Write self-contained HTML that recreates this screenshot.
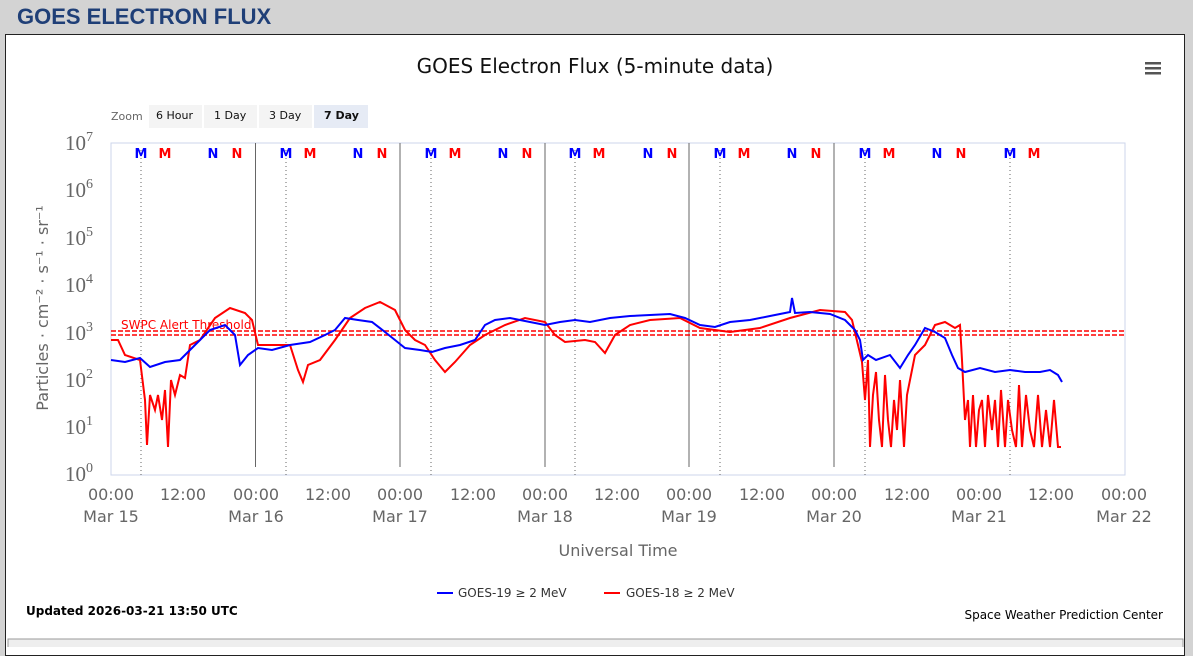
<!DOCTYPE html><html><head><style>
body{margin:0;width:1193px;height:647px;background:#d3d3d3;overflow:hidden;font-family:"Liberation Sans",sans-serif}
.h{position:absolute;left:17px;top:4px;font-size:22px;font-weight:bold;color:#1f3f77}
.box{position:absolute;left:5px;top:34px;width:1178px;height:620px;background:#fff;border:1px solid #222}
</style></head><body>
<div class="h">GOES ELECTRON FLUX</div>
<div class="box"></div>
<svg width="1193" height="647" style="position:absolute;left:0;top:0" font-family="DejaVu Sans, sans-serif">
<rect x="8" y="639" width="1175" height="10" fill="#eee" stroke="#999"/>
<text x="595" y="73" font-size="20" text-anchor="middle" fill="#111">GOES Electron Flux (5-minute data)</text>
<g fill="#555"><rect x="1145" y="62" width="16" height="2.5"/><rect x="1145" y="67" width="16" height="2.5"/><rect x="1145" y="72" width="16" height="2.5"/></g>
<text x="111" y="120" font-size="11" fill="#666">Zoom</text>
<rect x="149" y="105" width="53" height="23" fill="#f4f4f4"/><rect x="204" y="105" width="53" height="23" fill="#f4f4f4"/><rect x="259" y="105" width="53" height="23" fill="#f4f4f4"/><rect x="314" y="105" width="54" height="23" fill="#e6ebf5"/>
<g font-size="11" fill="#111"><text x="156" y="119">6 Hour</text><text x="214" y="119">1 Day</text><text x="269" y="119">3 Day</text><text x="324" y="119" font-weight="bold">7 Day</text></g>
<rect x="111" y="143" width="1014" height="332" fill="none" stroke="#ccd6eb"/>
<g stroke="#666"><line x1="255.5" y1="143" x2="255.5" y2="467"/><line x1="400" y1="143" x2="400" y2="467"/><line x1="545" y1="143" x2="545" y2="467"/><line x1="689" y1="143" x2="689" y2="467"/><line x1="834" y1="143" x2="834" y2="467"/></g>
<g stroke="#666" stroke-dasharray="1,3"><line x1="141" y1="150" x2="141" y2="475"/><line x1="286" y1="150" x2="286" y2="475"/><line x1="431" y1="150" x2="431" y2="475"/><line x1="575" y1="150" x2="575" y2="475"/><line x1="720" y1="150" x2="720" y2="475"/><line x1="865" y1="150" x2="865" y2="475"/><line x1="1010" y1="150" x2="1010" y2="475"/></g>
<g font-size="13" font-weight="bold" text-anchor="middle">
<g fill="#0000ff"><text x="141" y="158">M</text><text x="286" y="158">M</text><text x="431" y="158">M</text><text x="575" y="158">M</text><text x="720" y="158">M</text><text x="865" y="158">M</text><text x="1010" y="158">M</text>
<text x="213" y="158">N</text><text x="358" y="158">N</text><text x="503" y="158">N</text><text x="648" y="158">N</text><text x="792" y="158">N</text><text x="937" y="158">N</text></g>
<g fill="#ff0000"><text x="165" y="158">M</text><text x="310" y="158">M</text><text x="455" y="158">M</text><text x="599" y="158">M</text><text x="744" y="158">M</text><text x="889" y="158">M</text><text x="1034" y="158">M</text>
<text x="237" y="158">N</text><text x="382" y="158">N</text><text x="527" y="158">N</text><text x="672" y="158">N</text><text x="816" y="158">N</text><text x="961" y="158">N</text></g></g>
<g font-family="Liberation Serif, serif" fill="#666" font-size="21" text-anchor="end">
<text x="93" y="150">10<tspan font-size="14" dy="-9">7</tspan></text>
<text x="93" y="197">10<tspan font-size="14" dy="-9">6</tspan></text>
<text x="93" y="245">10<tspan font-size="14" dy="-9">5</tspan></text>
<text x="93" y="292">10<tspan font-size="14" dy="-9">4</tspan></text>
<text x="93" y="340">10<tspan font-size="14" dy="-9">3</tspan></text>
<text x="93" y="387">10<tspan font-size="14" dy="-9">2</tspan></text>
<text x="93" y="434">10<tspan font-size="14" dy="-9">1</tspan></text>
<text x="93" y="481">10<tspan font-size="14" dy="-9">0</tspan></text></g>
<text transform="translate(48,308) rotate(-90)" font-size="16" fill="#666" text-anchor="middle">Particles · cm⁻² · s⁻¹ · sr⁻¹</text>
<g font-size="16" fill="#666" text-anchor="middle">
<text x="111" y="500">00:00</text><text x="111" y="522">Mar 15</text><text x="183" y="500">12:00</text>
<text x="256" y="500">00:00</text><text x="256" y="522">Mar 16</text><text x="328" y="500">12:00</text>
<text x="400" y="500">00:00</text><text x="400" y="522">Mar 17</text><text x="473" y="500">12:00</text>
<text x="545" y="500">00:00</text><text x="545" y="522">Mar 18</text><text x="617" y="500">12:00</text>
<text x="689" y="500">00:00</text><text x="689" y="522">Mar 19</text><text x="762" y="500">12:00</text>
<text x="834" y="500">00:00</text><text x="834" y="522">Mar 20</text><text x="907" y="500">12:00</text>
<text x="979" y="500">00:00</text><text x="979" y="522">Mar 21</text><text x="1051" y="500">12:00</text>
<text x="1124" y="500">00:00</text><text x="1124" y="522">Mar 22</text>
<text x="618" y="556">Universal Time</text></g>
<g stroke="#ff0000" stroke-width="1.5" stroke-dasharray="5,2"><line x1="111" y1="331" x2="1125" y2="331"/><line x1="111" y1="335" x2="1125" y2="335"/></g>
<text x="121" y="329" font-size="12" fill="#ff0000">SWPC Alert Threshold</text>
<polyline fill="none" stroke="#ff0000" stroke-width="2" points="111,340 118,340 125,355 140,360 145,400 147,445 150,395 155,410 158,395 162,420 165,390 168,447 171,380 175,395 180,375 185,378 190,345 200,340 215,318 230,308 245,313 252,320 258,345 270,345 290,345 298,370 303,382 308,365 320,360 335,340 350,318 365,308 380,302 395,310 405,330 415,340 425,345 435,360 445,372 455,362 470,345 485,335 505,325 525,318 545,322 555,335 565,342 585,340 595,342 605,353 615,335 630,325 650,320 680,318 700,328 730,332 760,328 790,318 820,310 845,312 852,320 858,345 862,362 865,400 868,360 870,447 873,395 876,372 879,420 882,447 885,375 888,420 891,447 894,400 897,430 900,380 904,447 907,395 911,375 915,355 925,345 935,325 945,322 955,328 960,325 962,360 965,420 968,400 970,447 973,395 976,447 979,410 982,400 985,447 988,395 992,430 995,400 998,447 1001,390 1005,447 1008,400 1012,430 1016,447 1019,385 1022,447 1026,395 1030,430 1034,447 1038,395 1042,447 1046,410 1050,447 1054,400 1058,447 1061,447"/>
<polyline fill="none" stroke="#0000ff" stroke-width="2" points="111,360 125,362 140,358 150,367 165,362 180,360 195,345 210,330 225,325 235,335 240,365 248,355 258,348 272,350 290,345 310,342 325,335 335,330 345,318 358,320 372,322 385,332 395,340 405,348 420,350 432,352 445,348 460,345 475,340 485,325 495,320 510,318 530,322 545,325 560,322 575,320 590,322 610,318 630,316 650,315 670,314 685,318 700,325 715,327 730,322 750,320 770,316 790,312 792,298 795,313 810,312 830,314 845,320 855,330 860,340 863,360 868,355 876,360 890,355 900,368 908,355 915,345 925,328 935,332 945,338 952,355 958,368 965,372 980,368 995,372 1010,370 1025,372 1040,372 1050,370 1058,375 1062,382"/>
<g font-size="12" fill="#333"><line x1="437" y1="593" x2="453" y2="593" stroke="#0000ff" stroke-width="2"/><text x="458" y="597">GOES-19 ≥ 2 MeV</text>
<line x1="604" y1="593" x2="620" y2="593" stroke="#ff0000" stroke-width="2"/><text x="626" y="597">GOES-18 ≥ 2 MeV</text></g>
<text x="26" y="615" font-size="12" font-weight="bold" fill="#000">Updated 2026-03-21 13:50 UTC</text>
<text x="1163" y="619" font-size="12" fill="#000" text-anchor="end">Space Weather Prediction Center</text>
</svg></body></html>
